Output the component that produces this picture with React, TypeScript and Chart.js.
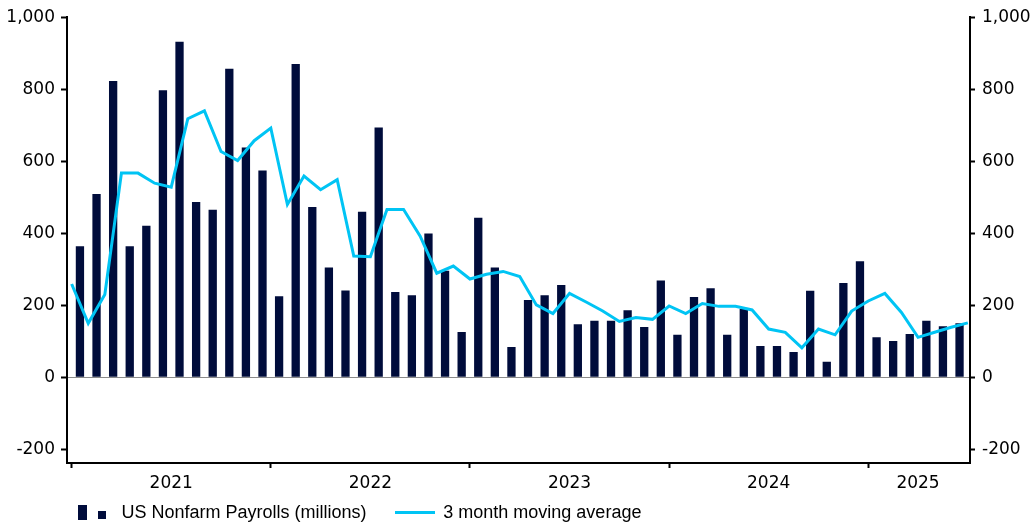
import React, { useEffect, useRef } from "react";
import { Chart, registerables } from "chart.js";

Chart.register(...registerables);

// Monthly periods: Jan 2021 .. Jun 2025 (54 months)
const startYear = 2021;
const monthCount = 54;

// US Nonfarm Payrolls, monthly change (thousands)
const payrolls = [
  364, 509, 823, 364, 421, 797, 932, 487, 465, 857, 638, 574,
  225, 870, 473, 305, 241, 460, 694, 237, 228, 399, 296, 126,
  443, 305, 84, 215, 228, 256, 147, 157, 157, 186, 140, 269,
  118, 223, 247, 118, 190, 87, 87, 70, 240, 43, 262, 322,
  111, 101, 120, 157, 142, 150,
];

// 3-month moving average, plotted at the end of each month (55 points incl. Dec 2020)
const movingAverage = [
  259, 150, 230, 567, 567, 539, 528, 718, 740, 627, 602, 657,
  692, 480, 559, 521, 549, 337, 335, 466, 466, 392, 289, 309,
  273, 286, 294, 280, 201, 177, 233, 209, 184, 155, 166, 161,
  198, 177, 205, 197, 197, 187, 134, 125, 82, 134, 118, 184,
  212, 233, 180, 111, 125, 139, 151,
];

const yearLabels = ["2021", "2022", "2023", "2024", "2025"];
const yTicks = [-200, 0, 200, 400, 600, 800, 1000];

const seriesNames = ["US Nonfarm Payrolls (millions)", "3 month moving average"];

const BAR_COLOR = "#000c3b";
const LINE_COLOR = "#00c4f4";

export default function App() {
  const canvasRef = useRef<HTMLCanvasElement | null>(null);

  useEffect(() => {
    if (!canvasRef.current) return;

    const barData = payrolls.map((v, i) => ({ x: i + 0.5, y: v }));
    const lineData = movingAverage.map((v, i) => ({ x: i, y: v }));

    // year boundary ticks (marks) and year centre ticks (labels)
    const xTickDefs: { value: number; label: string }[] = [];
    yearLabels.forEach((lab, yi) => {
      const start = yi * 12;
      const end = Math.min(start + 12, monthCount);
      xTickDefs.push({ value: start, label: "" });
      xTickDefs.push({ value: (start + end) / 2, label: lab });
    });

    const tickFont = { family: "'DejaVu Sans', Verdana, sans-serif", size: 17 };

    const chart = new Chart(canvasRef.current, {
      type: "line",
      data: {
        datasets: [
          {
            type: "line",
            label: seriesNames[1],
            data: lineData,
            borderColor: LINE_COLOR,
            borderWidth: 3,
            pointRadius: 0,
            tension: 0,
            order: 0,
          } as any,
          {
            type: "bar",
            label: seriesNames[0],
            data: barData,
            backgroundColor: BAR_COLOR,
            borderWidth: 0,
            barPercentage: 0.5,
            categoryPercentage: 1,
            order: 1,
          } as any,
        ],
      },
      options: {
        animation: false,
        responsive: true,
        maintainAspectRatio: false,
        layout: { padding: { top: 15, bottom: 35, left: 0, right: 0 } },
        plugins: {
          legend: { display: false },
          tooltip: { enabled: false },
        },
        scales: {
          x: {
            type: "linear",
            min: -0.28,
            max: 54.13,
            offset: false,
            position: "bottom",
            border: { display: true, color: "#000", width: 2 },
            grid: {
              offset: false,
              drawOnChartArea: false,
              drawTicks: true,
              tickLength: 5,
              tickWidth: 2,
              tickColor: (ctx: any) =>
                ctx.tick && ctx.tick.label === "" ? "#000" : "rgba(0,0,0,0)",
            },
            afterBuildTicks: (scale: any) => {
              scale.ticks = xTickDefs.map((t) => ({ value: t.value }));
            },
            ticks: {
              autoSkip: false,
              maxRotation: 0,
              padding: 5,
              color: "#000",
              font: tickFont,
              callback: (value: any) => {
                const t = xTickDefs.find((d) => Math.abs(d.value - Number(value)) < 1e-6);
                return t ? t.label : "";
              },
            },
            afterFit: (scale: any) => {
              scale.height = 28;
            },
          },
          y: {
            type: "linear",
            position: "left",
            min: -238,
            max: 1000,
            border: { display: true, color: "#000", width: 2 },
            grid: {
              drawOnChartArea: true,
              drawTicks: true,
              tickLength: 6,
              tickWidth: 2,
              tickColor: "#000",
              lineWidth: 1,
              color: (ctx: any) =>
                ctx.tick && ctx.tick.value === 0 ? "#8a8a8a" : "rgba(0,0,0,0)",
            },
            afterBuildTicks: (scale: any) => {
              scale.ticks = yTicks.map((v) => ({ value: v }));
            },
            ticks: {
              padding: 6,
              color: "#000",
              font: tickFont,
              callback: (value: any) => Number(value).toLocaleString("en-US"),
            },
            afterFit: (scale: any) => {
              scale.width = 67;
            },
          },
          y2: {
            type: "linear",
            position: "right",
            min: -238,
            max: 1000,
            border: { display: true, color: "#000", width: 2 },
            grid: {
              drawOnChartArea: false,
              drawTicks: true,
              tickLength: 5,
              tickWidth: 2,
              tickColor: "#000",
            },
            afterBuildTicks: (scale: any) => {
              scale.ticks = yTicks.map((v) => ({ value: v }));
            },
            ticks: {
              padding: 7,
              color: "#000",
              font: tickFont,
              callback: (value: any) => Number(value).toLocaleString("en-US"),
            },
            afterFit: (scale: any) => {
              scale.width = 66;
            },
          },
        },
      } as any,
    });

    return () => {
      chart.destroy();
    };
  }, []);

  const legendText: React.CSSProperties = {
    position: "absolute",
    fontFamily: "'Liberation Sans', Arial, sans-serif",
    fontSize: 18,
    lineHeight: "20px",
    color: "#000",
    whiteSpace: "nowrap",
    top: 502,
  };

  return (
    <div
      style={{
        position: "absolute",
        left: 0,
        top: 0,
        width: 1036,
        height: 526,
        background: "#fff",
        overflow: "hidden",
      }}
    >
      <div style={{ position: "absolute", left: 0, top: 0, width: 1036, height: 526 }}>
        <canvas ref={canvasRef} />
      </div>
      <div style={{ position: "absolute", left: 78, top: 505, width: 8.5, height: 14.5, background: BAR_COLOR }} />
      <div style={{ position: "absolute", left: 97.5, top: 511, width: 8, height: 8.3, background: BAR_COLOR }} />
      <div style={{ ...legendText, left: 121.5 }}>{seriesNames[0]}</div>
      <div style={{ position: "absolute", left: 395, top: 511.2, width: 40, height: 3, background: LINE_COLOR }} />
      <div style={{ ...legendText, left: 443.3 }}>{seriesNames[1]}</div>
    </div>
  );
}
